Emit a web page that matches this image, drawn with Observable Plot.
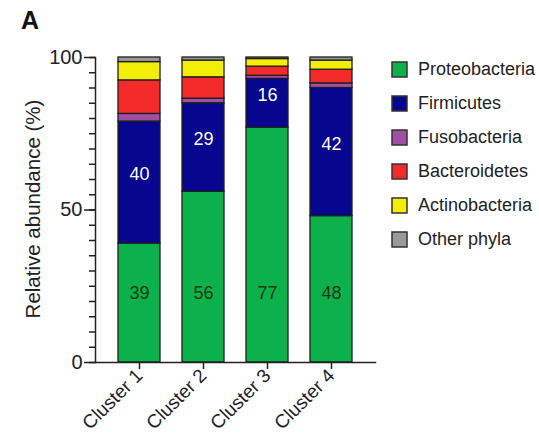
<!DOCTYPE html>
<html>
<head>
<meta charset="utf-8">
<script src="https://cdn.jsdelivr.net/npm/d3@7"></script>
<script src="https://cdn.jsdelivr.net/npm/@observablehq/plot@0.6"></script>
<style>
  html, body { margin: 0; padding: 0; background: #fff; overflow: hidden; }
  #wrap { position: relative; width: 539px; height: 447px; font-family: "Liberation Sans", Arial, sans-serif; }
  #panel { position: absolute; left: 21px; top: 8px; font-size: 25px; font-weight: bold; line-height: 1; color: #111; }
  #legend { position: absolute; left: 392px; top: 52px; width: 220px; }
  .lgd-swatches { margin: 0 !important; }
  .lgd-swatch { height: 34px; padding: 0 !important; margin: 0 !important; display: flex; align-items: center; }
  .lgd-swatch svg { margin-right: 11px !important; overflow: visible; }
  .lgd-swatch svg rect { stroke: #333; stroke-width: 1.5px; }
  .lgd-swatch-label { overflow: visible !important; text-overflow: clip !important; white-space: nowrap; color: #222; }
</style>
</head>
<body>
<div id="wrap">
  <div id="panel">A</div>
  <div id="chart"></div>
  <div id="legend"></div>
</div>
<script>
const clusters = ["Cluster 1", "Cluster 2", "Cluster 3", "Cluster 4"];
const phyla = ["Proteobacteria", "Firmicutes", "Fusobacteria", "Bacteroidetes", "Actinobacteria", "Other phyla"];
const colors = ["#0db14b", "#06068f", "#a04fa5", "#f52a2a", "#f2ee05", "#9a9a9a"];

const proteobacteria = [39, 56, 77, 48];
const firmicutes     = [40, 29, 16, 42];
const fusobacteria   = [2.5, 1.5, 1, 1.5];
const bacteroidetes  = [11, 7, 3, 4.5];
const actinobacteria = [6, 5.5, 2.5, 3];
const otherPhyla     = [1.5, 1, 0.5, 1];

const yTicksMajor = [0, 50, 100];
const yTicksMinor = d3.range(0, 101, 5);
const yLabel = "Relative abundance (%)";

const series = [proteobacteria, firmicutes, fusobacteria, bacteroidetes, actinobacteria, otherPhyla];
const rows = [];
clusters.forEach((c, i) => {
  phyla.forEach((p, j) => rows.push({cluster: c, phylum: p, value: series[j][i]}));
});
const proteoRows = rows.filter(d => d.phylum === "Proteobacteria");

const font = "'Liberation Sans', Arial, sans-serif";

const chart = Plot.plot({
  width: 539,
  height: 447,
  marginLeft: 95,
  marginRight: 164,
  marginTop: 57,
  marginBottom: 85,
  style: {fontFamily: font, fontSize: "19px", color: "#222", background: "transparent", overflow: "visible"},
  x: {domain: clusters, padding: 0.34, axis: null},
  y: {domain: [0, 100], axis: null},
  color: {domain: phyla, range: colors},
  marks: [
    Plot.barY(rows, {x: "cluster", y: "value", fill: "phylum", stroke: "#1e1e1e", strokeWidth: 1.3}),
    Plot.text(rows, Plot.stackY({
      x: "cluster", y: "value", z: "phylum",
      text: d => d.phylum === "Firmicutes" ? String(d.value) : "",
      fill: "white", fontSize: 18, dy: -8
    })),
    Plot.text(proteoRows, {x: "cluster", text: d => String(d.value), frameAnchor: "bottom", dy: -64, fill: "#123a14", fontSize: 18}),
    Plot.axisY({ticks: yTicksMinor, tickSize: 6, tickFormat: () => "", strokeWidth: 1.5, label: null}),
    Plot.axisY({ticks: yTicksMajor, tickSize: 11, tickPadding: 2, strokeWidth: 1.5, fontSize: 20, label: null}),
    Plot.text([yLabel], {frameAnchor: "left", textAnchor: "middle", rotate: -90, dx: -62, dy: -1, fontSize: 20.5, fill: "#222"}),
    Plot.axisX({tickRotate: -45, tickSize: 7, tickPadding: 3, strokeWidth: 1.5, fontSize: 19, label: null}),
    Plot.frame({anchor: "left", strokeWidth: 1.5, stroke: "#222"}),
    Plot.frame({anchor: "bottom", strokeWidth: 1.5, stroke: "#222"})
  ]
});
document.getElementById("chart").appendChild(chart);

const legend = Plot.legend({
  color: {domain: phyla, range: colors},
  legend: "swatches",
  columns: 1,
  swatchSize: 15,
  className: "lgd",
  style: {fontFamily: font, fontSize: "18px"}
});
document.getElementById("legend").appendChild(legend);
</script>
</body>
</html>
